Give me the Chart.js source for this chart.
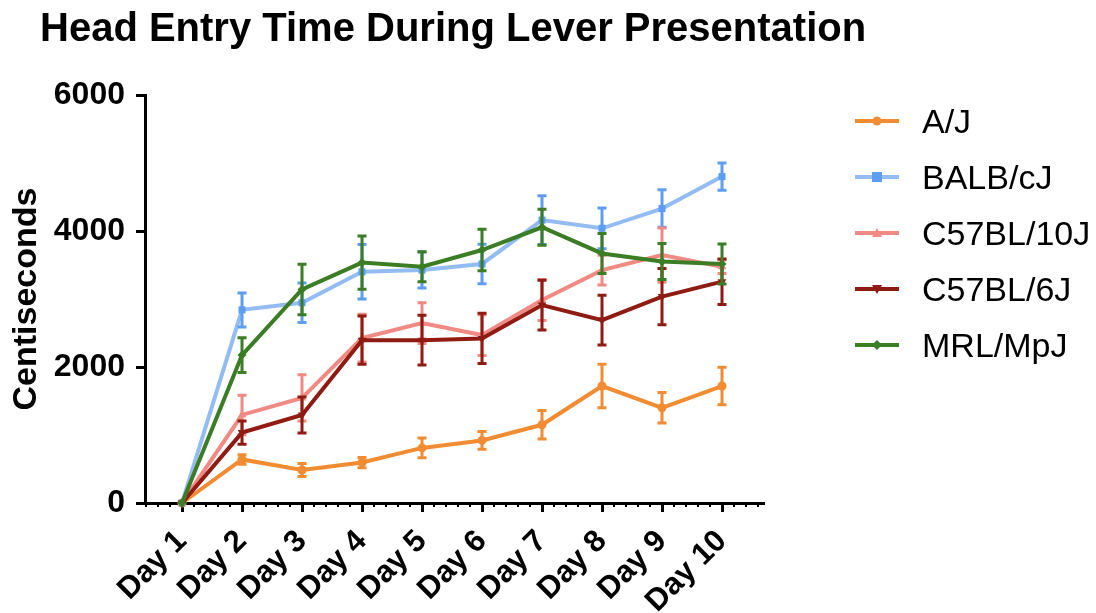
<!DOCTYPE html>
<html>
<head>
<meta charset="utf-8">
<script src="https://cdn.jsdelivr.net/npm/chart.js@4"></script>
<style>
  body { margin: 0; background: #fff; font-family: "Liberation Sans", Arial, sans-serif; }
  #wrap { position: relative; width: 1096px; height: 613px; }
  #title { position: absolute; left: 40px; top: 7px; font-size: 40px; font-weight: bold; line-height: 40px; white-space: nowrap; }
  #legend { position: absolute; left: 855px; top: 93px; }
  .item { height: 56px; display: flex; align-items: center; font-size: 34px; }
  .item svg { margin-right: 23px; }
</style>
</head>
<body>
<div id="wrap">
  <canvas id="chart" width="1096" height="613"></canvas>
  <div id="title">Head Entry Time During Lever Presentation</div>
  <div id="legend"></div>
</div>
<script>
let days = ["Day 1", "Day 2", "Day 3", "Day 4", "Day 5", "Day 6", "Day 7", "Day 8", "Day 9", "Day 10"];
let yTicks = [0, 2000, 4000, 6000];

let strains = ["A/J", "BALB/cJ", "C57BL/10J", "C57BL/6J", "MRL/MpJ"];

let ajMean = [0, 640, 485, 595, 810, 920, 1150, 1720, 1400, 1720];
let ajErr = [0, 70, 95, 75, 145, 130, 210, 320, 225, 275];
let balbMean = [0, 2840, 2945, 3400, 3425, 3515, 4160, 4040, 4330, 4800];
let balbErr = [0, 250, 290, 400, 265, 290, 360, 300, 275, 200];
let c10Mean = [0, 1295, 1545, 2425, 2645, 2470, 2985, 3425, 3645, 3475];
let c10Err = [0, 290, 340, 350, 300, 300, 300, 220, 400, 100];
let c6Mean = [0, 1035, 1295, 2395, 2395, 2420, 2910, 2690, 3035, 3255];
let c6Err = [0, 170, 265, 355, 365, 370, 365, 365, 415, 335];
let mrlMean = [0, 2175, 3140, 3535, 3475, 3720, 4055, 3670, 3550, 3515];
let mrlErr = [0, 255, 370, 390, 220, 305, 265, 295, 265, 295];

let means = [ajMean, balbMean, c10Mean, c6Mean, mrlMean];
let errors = [ajErr, balbErr, c10Err, c6Err, mrlErr];

// line colour, marker colour, marker shape
let lineColors = ["#f28c33", "#93bdf2", "#f08a82", "#8f1b12", "#3a7d24"];
let markColors = ["#f28c33", "#5e9ef2", "#f08a82", "#8f1b12", "#3a7d24"];
let shapes = ["circle", "rect", "triangle", "triangle", "rectRot"];
let rotations = [0, 0, 0, 180, 0];
let radii = [4.5, 5, 5, 5, 4.5];

let datasets = [];
for (let i = 0; i < strains.length; i++) {
  let pts = [];
  for (let d = 0; d < days.length; d++) {
    pts.push({ x: d + 1, y: means[i][d] });
  }
  datasets.push({
    label: strains[i],
    data: pts,
    borderColor: lineColors[i],
    backgroundColor: markColors[i],
    borderWidth: 4,
    pointStyle: shapes[i],
    pointRotation: rotations[i],
    pointRadius: radii[i],
    pointBorderWidth: 0,
    order: strains.length - i,
    clip: 10
  });
}

// error bars drawn right after each dataset so stacking matches the lines
let errorBars = {
  id: "errorBars",
  afterDatasetDraw: function (chart, args) {
    let i = args.index;
    let ctx = chart.ctx;
    let x = chart.scales.x;
    let y = chart.scales.y;
    ctx.save();
    ctx.strokeStyle = markColors[i];
    ctx.lineWidth = 3;
    for (let d = 0; d < days.length; d++) {
      if (!errors[i][d]) continue;
      let px = x.getPixelForValue(d + 1);
      let top = y.getPixelForValue(means[i][d] + errors[i][d]);
      let bot = y.getPixelForValue(means[i][d] - errors[i][d]);
      ctx.beginPath();
      ctx.moveTo(px, top); ctx.lineTo(px, bot);
      ctx.moveTo(px - 4.5, top); ctx.lineTo(px + 4.5, top);
      ctx.moveTo(px - 4.5, bot); ctx.lineTo(px + 4.5, bot);
      ctx.stroke();
    }
    ctx.restore();
  }
};

// small minor ticks under the x axis line
let minorTicks = {
  id: "minorTicks",
  afterDraw: function (chart) {
    let x = chart.scales.x;
    let ctx = chart.ctx;
    let base = chart.chartArea.bottom;
    ctx.save();
    ctx.strokeStyle = "#000";
    ctx.lineWidth = 2;
    for (let k = 2; k <= 53; k++) {
      let v = k / 5;
      if (k % 5 === 0 || v < x.min || v > x.max) continue;
      let px = x.getPixelForValue(v);
      ctx.beginPath();
      ctx.moveTo(px, base);
      ctx.lineTo(px, base + 4);
      ctx.stroke();
    }
    ctx.restore();
  }
};

new Chart(document.getElementById("chart"), {
  type: "line",
  data: { datasets: datasets },
  plugins: [errorBars, minorTicks],
  options: {
    responsive: false,
    animation: false,
    events: [],
    layout: { padding: { left: 0, top: 95, right: 332, bottom: 0 } },
    plugins: { legend: { display: false }, title: { display: false }, tooltip: { enabled: false } },
    scales: {
      x: {
        type: "linear",
        min: 0.383,
        max: 10.7,
        afterFit: function (s) { s.height = 110; },
        afterBuildTicks: function (s) {
          let t = [];
          for (let d = 0; d < days.length; d++) t.push({ value: d + 1 });
          s.ticks = t;
        },
        border: { display: true, color: "#000", width: 3 },
        grid: { drawOnChartArea: false, drawTicks: true, tickLength: 9, tickWidth: 3, tickColor: "#000" },
        ticks: {
          minRotation: 45,
          maxRotation: 45,
          padding: 11,
          color: "#000",
          font: { family: "Liberation Sans", size: 31, weight: "bold" },
          callback: function (v, idx) { return days[idx]; }
        }
      },
      y: {
        min: 0,
        max: 6000,
        afterFit: function (s) { s.width = 145; },
        afterBuildTicks: function (s) {
          s.ticks = yTicks.map(function (v) { return { value: v }; });
        },
        border: { display: true, color: "#000", width: 3 },
        grid: { drawOnChartArea: false, drawTicks: true, tickLength: 9, tickWidth: 3, tickColor: "#000" },
        ticks: {
          padding: 11,
          color: "#000",
          font: { family: "Liberation Sans", size: 32, weight: "bold" },
          callback: function (v) { return String(v); }
        },
        title: {
          display: true,
          text: "Centiseconds",
          color: "#000",
          padding: { top: 6, bottom: 0 },
          font: { family: "Liberation Sans", size: 34, weight: "bold" }
        }
      }
    }
  }
});

// legend: line with marker, then the strain name
function markerSvg(i) {
  let c = markColors[i];
  let m = "";
  if (shapes[i] === "circle") m = "<circle cx='22' cy='8' r='4.5' fill='" + c + "'/>";
  if (shapes[i] === "rect") m = "<rect x='17' y='3' width='10' height='10' fill='" + c + "'/>";
  if (shapes[i] === "triangle" && rotations[i] === 0) m = "<polygon points='22,3 27,12 17,12' fill='" + c + "'/>";
  if (shapes[i] === "triangle" && rotations[i] === 180) m = "<polygon points='17,4 27,4 22,13' fill='" + c + "'/>";
  if (shapes[i] === "rectRot") m = "<polygon points='22,3 27,8 22,13 17,8' fill='" + c + "'/>";
  return "<svg width='44' height='16'><line x1='0' y1='8' x2='44' y2='8' stroke='" + lineColors[i] + "' stroke-width='4'/>" + m + "</svg>";
}
let html = "";
for (let i = 0; i < strains.length; i++) {
  html += "<div class='item'>" + markerSvg(i) + "<span>" + strains[i] + "</span></div>";
}
document.getElementById("legend").innerHTML = html;
</script>
</body>
</html>
